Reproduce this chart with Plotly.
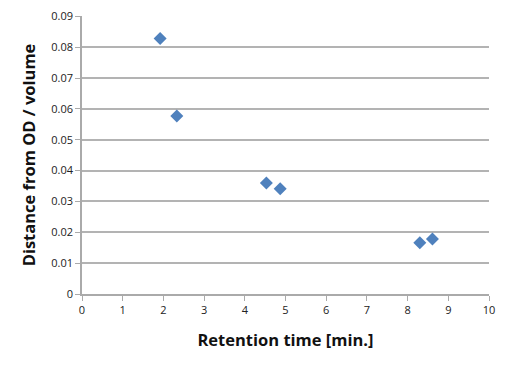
import plotly.graph_objects as go

retention_time = [1.92, 2.33, 4.53, 4.87, 8.30, 8.61]
distance = [0.0828, 0.0577, 0.0360, 0.0341, 0.0166, 0.0178]
x_ticks = list(range(0, 11))
y_ticks = [0, 0.01, 0.02, 0.03, 0.04, 0.05, 0.06, 0.07, 0.08, 0.09]
y_labels = ["0", "0.01", "0.02", "0.03", "0.04", "0.05", "0.06", "0.07", "0.08", "0.09"]

fig = go.Figure()
fig.add_trace(go.Scatter(
    x=retention_time, y=distance, mode="markers",
    marker=dict(symbol="diamond", size=10, color="#4F81BD", line=dict(width=0)),
    showlegend=False,
))

fig.update_layout(
    width=502, height=362,
    margin=dict(l=74, r=21, t=8, b=76),
    paper_bgcolor="white", plot_bgcolor="white",
    font=dict(family="Open Sans, sans-serif", size=11, color="#222"),
    xaxis=dict(
        range=[0, 10], tickvals=x_ticks, showgrid=False, zeroline=False,
        showline=True, linecolor="#aaaaaa", linewidth=1.5, automargin=False,
        ticks="outside", ticklen=5, tickcolor="#aaaaaa", ticklabeloverflow="allow",
        title=dict(text="<b>Retention time [min.]</b>", font=dict(size=16.5, color="#111"), standoff=18),
    ),
    yaxis=dict(
        range=[0, 0.0901], tickvals=y_ticks, ticktext=y_labels,
        showgrid=True, gridcolor="#b3b3b3", gridwidth=1.5, zeroline=False,
        showline=True, linecolor="#aaaaaa", linewidth=1.5, automargin=False,
        ticks="outside", ticklen=5, tickcolor="#aaaaaa", ticklabeloverflow="allow",
        title=dict(text="<b>Distance from OD / volume</b>", font=dict(size=16.5, color="#111"), standoff=12),
    ),
)

fig.write_html("out.html")
